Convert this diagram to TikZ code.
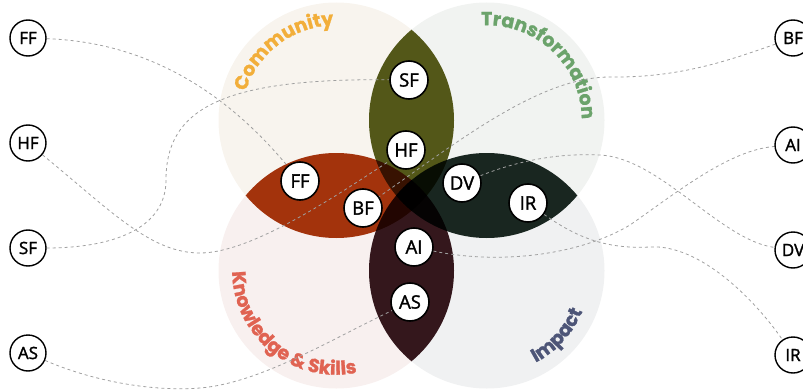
\documentclass[tikz,border=0pt]{standalone}
\usepackage{fontspec}
\setmainfont{Open Sans}
\newfontfamily\nodefont[RawFeature={embolden=1.6}]{Open Sans}
\newfontfamily\lblfont[RawFeature={embolden=1.2}]{Poppins}
\usetikzlibrary{decorations.text}
\definecolor{commfill}{HTML}{F8F4EE}
\definecolor{transfill}{HTML}{F1F3F1}
\definecolor{knowfill}{HTML}{F8F0EF}
\definecolor{impfill}{HTML}{F0F1F2}
\definecolor{olivep}{HTML}{585C1A}
\definecolor{redp}{HTML}{A8370D}
\definecolor{greenp}{HTML}{1B2922}
\definecolor{maroonp}{HTML}{38191E}
\definecolor{commc}{HTML}{F2AE3A}
\definecolor{transc}{HTML}{6BA36B}
\definecolor{knowc}{HTML}{E06352}
\definecolor{impc}{HTML}{4D5577}
\definecolor{linec}{HTML}{A0A0A0}
\pgfdeclarelayer{bg}
\pgfdeclarelayer{mid}
\pgfsetlayers{bg,mid,main}
\tikzset{
  inner/.style={circle, draw=black, fill=white, line width=1.6pt, minimum size=38pt, inner sep=0pt, font=\nodefont\fontsize{18.5}{18.5}\selectfont},
  outer/.style={circle, draw=black, fill=white, line width=1.4pt, minimum size=36pt, inner sep=0pt, font=\nodefont\fontsize{17}{17}\selectfont},
  conn/.style={draw=linec, line width=0.8pt, dash pattern=on 3pt off 3pt},
  lbl/.style={decorate, decoration={text along path, text align=center}}
}
\begin{document}
\begin{tikzpicture}[x=1pt,y=1pt]
\useasboundingbox (0,0) rectangle (803,389);
\coordinate (Cc) at (336.25,268.75);
\coordinate (Ct) at (486.75,268.75);
\coordinate (Ck) at (336.25,118.25);
\coordinate (Ci) at (486.75,118.25);
\begin{pgfonlayer}{bg}
  \fill[commfill] (Cc) circle[radius=117.75pt];
  \fill[transfill] (Ct) circle[radius=117.75pt];
  \fill[knowfill] (Ck) circle[radius=117.75pt];
  \fill[impfill] (Ci) circle[radius=117.75pt];
  \begin{scope}[blend mode=multiply]
    \clip (Cc) circle[radius=117.75pt];
    \fill[olivep] (Ct) circle[radius=117.75pt];
  \end{scope}
  \begin{scope}[blend mode=multiply]
    \clip (Cc) circle[radius=117.75pt];
    \fill[redp] (Ck) circle[radius=117.75pt];
  \end{scope}
  \begin{scope}[blend mode=multiply]
    \clip (Ct) circle[radius=117.75pt];
    \fill[greenp] (Ci) circle[radius=117.75pt];
  \end{scope}
  \begin{scope}[blend mode=multiply]
    \clip (Ck) circle[radius=117.75pt];
    \fill[maroonp] (Ci) circle[radius=117.75pt];
  \end{scope}
  \path[lbl, decoration={text={|\lblfont\bfseries\fontsize{19}{19}\selectfont\color{commc}|Community}}]
    (Cc) ++(190:95pt) arc[start angle=190, end angle=64, radius=95pt];
  \path[lbl, decoration={text={|\lblfont\bfseries\fontsize{19}{19}\selectfont\color{transc}|Transformation}}]
    (Ct) ++(130:95pt) arc[start angle=130, end angle=-36, radius=95pt];
  \path[lbl, decoration={text={|\lblfont\bfseries\fontsize{19}{19}\selectfont\color{knowc}|Knowledge {\&} Skills}}]
    (Ck) ++(130:104pt) arc[start angle=130, end angle=332, radius=104pt];
  \path[lbl, decoration={text={|\lblfont\bfseries\fontsize{19}{19}\selectfont\color{impc}|Impact}}]
    (Ci) ++(-110:104pt) arc[start angle=-110, end angle=25, radius=104pt];
\end{pgfonlayer}

\node[outer] (lFF) at (28,351) {FF};
\node[outer] (lHF) at (28,246) {HF};
\node[outer] (lSF) at (28,141) {SF};
\node[outer] (lAS) at (28,36) {AS};
\node[outer] (rBF) at (793,351) {BF};
\node[outer] (rAI) at (793,244) {AI};
\node[outer] (rDV) at (793,139) {DV};
\node[outer] (rIR) at (793,34) {IR};

\node[inner] (iSF) at (409,309) {SF};
\node[inner] (iHF) at (406,239) {HF};
\node[inner] (iFF) at (300,208) {FF};
\node[inner] (iBF) at (363,181) {BF};
\node[inner] (iDV) at (462,206) {DV};
\node[inner] (iIR) at (528,186) {IR};
\node[inner] (iAI) at (414,142) {AI};
\node[inner] (iAS) at (410,87) {AS};

\begin{pgfonlayer}{mid}
  \draw[conn] (lFF) .. controls (140,347) and (220,304) .. (iFF);
  \draw[conn] (lHF) .. controls (110,179) and (150,136) .. (200,136) .. controls (250,136) and (330,189) .. (iHF);
  \draw[conn] (lSF) .. controls (110,141) and (166,159) .. (166,209) .. controls (166,279) and (220,311) .. (iSF);
  \draw[conn] (lAS) .. controls (90,9) and (150,-3) .. (200,1) .. controls (260,6) and (330,49) .. (iAS);
  \draw[conn] (rBF) .. controls (730,329) and (680,311) .. (610,312) .. controls (540,312) and (460,249) .. (iBF);
  \draw[conn] (iAI) .. controls (500,124) and (580,134) .. (630,164) .. controls (680,199) and (730,239) .. (rAI);
  \draw[conn] (iDV) .. controls (520,229) and (560,236) .. (600,234) .. controls (660,231) and (720,149) .. (rDV);
  \draw[conn] (iIR) .. controls (580,149) and (610,140) .. (650,142) .. controls (700,145) and (755,89) .. (rIR);
\end{pgfonlayer}
\end{tikzpicture}
\end{document}
